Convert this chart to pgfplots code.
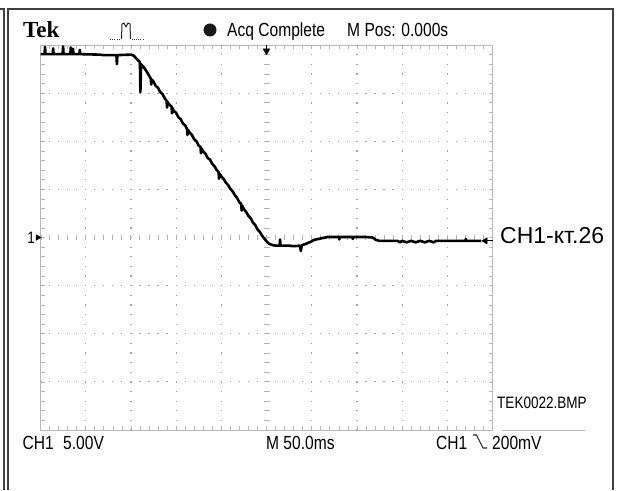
\documentclass[border=0pt]{standalone}
\usepackage{fontspec}
\setmainfont{Liberation Sans}
\newfontfamily\oscfont[FakeStretch=0.82]{Liberation Sans}
\newfontfamily\tekfont{Liberation Serif}
\usepackage{pgfplots}
\pgfplotsset{compat=1.18}
\newcommand\scopetxt{\oscfont\fontsize{19}{20}\selectfont}
\newcommand\scopesmall{\oscfont\fontsize{16.5}{17}\selectfont}
\pgfplotstableread{
x y
-5.00 3.81
-4.91 3.81
-4.90 3.96
-4.89 3.81
-4.73 3.81
-4.72 3.93
-4.71 3.81
-4.51 3.81
-4.50 3.97
-4.49 3.81
-4.34 3.81
-4.33 3.95
-4.32 3.81
-4.29 3.81
-4.28 3.92
-4.27 3.81
-4.14 3.81
-4.13 3.90
-4.12 3.81
-3.70 3.80
-3.60 3.79
-3.32 3.79
-3.31 3.60
-3.30 3.79
-3.00 3.80
-2.94 3.78
-2.88 3.72
-2.80 3.64
-2.79 3.02
-2.775 3.60
-2.70 3.52
-2.62 3.40
-2.56 3.30
-2.55 3.18
-2.54 3.28
-2.50 3.24
-2.45 3.15
-2.40 3.11
-2.35 3.02
-2.30 2.98
-2.25 2.89
-2.21 2.84
-2.20 2.70
-2.19 2.82
-2.15 2.76
-2.10 2.72
-2.09 2.58
-2.08 2.69
-2.05 2.63
-2.00 2.59
-1.95 2.50
-1.90 2.46
-1.85 2.37
-1.80 2.33
-1.76 2.26
-1.75 2.13
-1.74 2.24
-1.70 2.18
-1.65 2.13
-1.60 2.04
-1.55 2.00
-1.50 1.91
-1.46 1.88
-1.45 1.75
-1.44 1.85
-1.40 1.79
-1.35 1.74
-1.30 1.65
-1.25 1.62
-1.20 1.53
-1.15 1.48
-1.10 1.40
-1.06 1.36
-1.05 1.22
-1.04 1.33
-1.00 1.27
-0.95 1.22
-0.90 1.14
-0.85 1.09
-0.80 1.01
-0.75 0.96
-0.70 0.88
-0.65 0.82
-0.60 0.73
-0.56 0.70
-0.55 0.56
-0.54 0.66
-0.50 0.59
-0.45 0.53
-0.40 0.45
-0.35 0.40
-0.30 0.31
-0.25 0.26
-0.20 0.17
-0.15 0.12
-0.10 0.04
-0.05 -0.02
0.00 -0.08
0.06 -0.13
0.14 -0.16
0.22 -0.17
0.29 -0.17
0.30 -0.04
0.31 -0.17
0.50 -0.17
0.60 -0.18
0.74 -0.17
0.76 -0.28
0.78 -0.16
0.85 -0.14
0.95 -0.10
1.00 -0.08
1.05 -0.05
1.15 -0.03
1.25 -0.01
1.35 0.01
1.60 0.01
1.61 -0.04
1.62 0.01
1.90 0.01
1.91 -0.03
1.92 0.01
2.20 0.01
2.34 0.00
2.38 -0.02
2.42 -0.05
2.50 -0.07
2.90 -0.07
2.95 -0.10
3.00 -0.07
3.10 -0.10
3.20 -0.07
3.30 -0.10
3.40 -0.07
3.50 -0.10
3.60 -0.07
3.70 -0.10
3.75 -0.07
4.40 -0.07
4.41 -0.03
4.42 -0.07
4.75 -0.07
}\trace
\begin{document}
\begin{tikzpicture}[x=1pt,y=1pt]
\useasboundingbox (0,0) rectangle (620,490);
% outer frame
\draw[line width=1.4pt, black!75] (0,481)--(4,481)--(4,0);
\draw[line width=1.4pt, black!75] (8,0)--(8,481)--(613,481)--(613,0);
\begin{axis}[at={(40.5pt,60pt)}, anchor=south west, scale only axis,
  width=452pt, height=385pt,
  xmin=-5, xmax=5, ymin=-4, ymax=4,
  xtick={-5,...,5}, ytick={-4,...,4},
  minor x tick num=4, minor y tick num=4,
  xticklabels={}, yticklabels={},
  tick align=inside, major tick length=4pt, minor tick length=4pt,
  tick style={color=black!28, line width=0.6pt},
  axis line style={black!28, line width=0.7pt},
  clip=false]
% dotted grid
\pgfplotsinvokeforeach{-4,-3,-2,-1,1,2,3,4}{
  \draw[black!35, line width=1.2pt, dash pattern=on 1.2pt off 8.42pt, dash phase=0.6pt]
    (axis cs:#1,-4) -- (axis cs:#1,4);
}
\pgfplotsinvokeforeach{-3,-2,-1,1,2,3}{
  \draw[black!35, line width=1.2pt, dash pattern=on 1.2pt off 7.84pt, dash phase=0.6pt]
    (axis cs:-5,#1) -- (axis cs:5,#1);
}
% centre cross-hair ticks
\draw[black!30, line width=5pt, dash pattern=on 0.9pt off 8.14pt, dash phase=0.45pt]
  (axis cs:-5,0) -- (axis cs:5,0);
\draw[black!30, line width=6pt, dash pattern=on 0.9pt off 8.72pt, dash phase=0.45pt]
  (axis cs:0,-4) -- (axis cs:0,4);
% trace
\addplot[black, line width=2.6pt, line join=round, mark=none] table[x=x, y=y] {\trace};
% markers
\addplot[black, line width=1.2pt, mark=none] coordinates {(0,4) (0,3.85)};
\addplot[only marks, mark=triangle*, mark size=4pt, mark options={rotate=180, black}] coordinates {(0,3.88)};
\addplot[only marks, mark=triangle*, mark size=3.2pt, mark options={rotate=-90, black}] coordinates {(-5.06,0)};
\addplot[black, line width=1pt, mark=none] coordinates {(4.82,-0.07) (5.0,-0.07)};
\addplot[only marks, mark=triangle*, mark size=3.6pt, mark options={rotate=90, black}] coordinates {(4.84,-0.07)};
\node[anchor=east, inner sep=0, font=\scopesmall] at (axis cs:-5.12,0) {1};
\end{axis}
% header
\node[anchor=base west, inner sep=0, font=\tekfont\bfseries\fontsize{23}{23}\selectfont] at (23,452) {Tek};
\draw[black!80, line width=0.8pt, dash pattern=on 0.8pt off 1.4pt] (110,451)--(121,451);
\draw[black!85, line width=1pt, line join=round] (121.5,451)--(122,466)--(124,467)--(126,463)--(128,467)--(130,466)--(130.5,451);
\draw[black!80, line width=0.8pt, dash pattern=on 0.8pt off 1.4pt] (131.5,451)--(143,451);
\fill[black!90] (210,460) circle (6.5);
\node[anchor=base west, inner sep=0, font=\scopetxt] at (227,453.3) {Acq Complete};
\node[anchor=base west, inner sep=0, font=\scopetxt] at (347,453.3) {M Pos: 0.000s};
% footer
\node[anchor=base west, inner sep=0, font=\scopetxt] at (22.5,41) {CH1};
\node[anchor=base west, inner sep=0, font=\scopetxt] at (63,41) {5.00V};
\node[anchor=base west, inner sep=0, font=\scopetxt] at (266,41) {M 50.0ms};
\node[anchor=base west, inner sep=0, font=\scopetxt] at (436,41) {CH1};
\draw[black!85, line width=1.1pt] (473,55)--(476.5,55)--(483,42)--(487,42);
\node[anchor=base west, inner sep=0, font=\scopetxt] at (492,41) {200mV};
\node[anchor=base west, inner sep=0, font=\scopesmall] at (497,82) {TEK0022.BMP};
\draw[black!28, line width=0.8pt] (502,60)--(585,60);
\node[anchor=base west, inner sep=0, font=\fontsize{23}{24}\selectfont] at (500,246) {CH1-кт.26};
\end{tikzpicture}
\end{document}
